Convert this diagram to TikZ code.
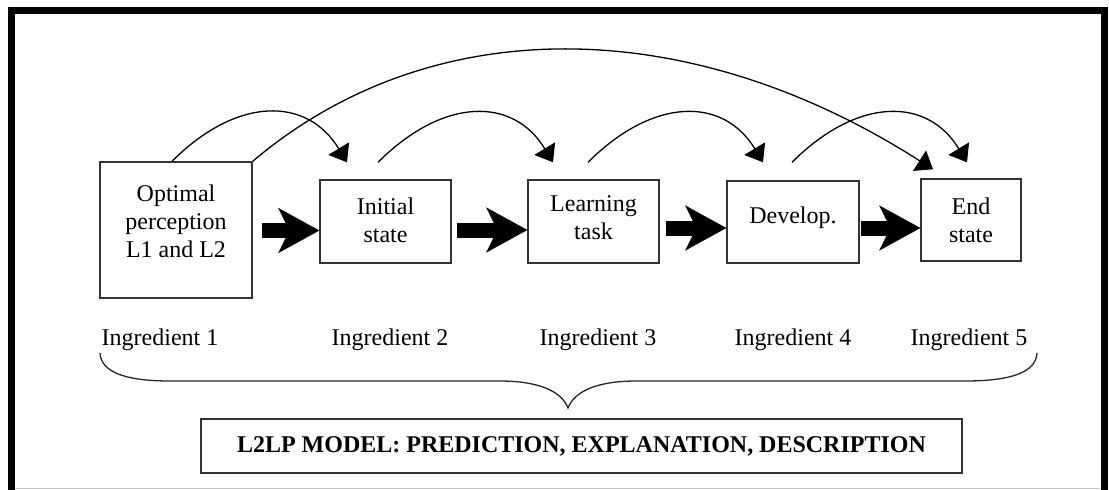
\documentclass[tikz,border=0pt]{standalone}
\usepackage{fontspec}
\setmainfont{Liberation Serif}
\usetikzlibrary{arrows.meta,calc}
\begin{document}
\begin{tikzpicture}[x=1pt,y=-1pt,
  box/.style={draw=black!80, line width=1.4pt, inner sep=0pt},
  txt/.style={font=\fontsize{24}{28}\selectfont, align=center, inner sep=0pt},
  fat/.style={line width=15pt, -{Stealth[length=41pt,width=45pt,inset=11pt,line width=0.1pt]}},
  hop/.style={line width=1.3pt, -{Triangle[length=16pt,width=24pt]}},
  brace/.style={line width=1.3pt, black!85},
]
\useasboundingbox (0,0) rectangle (1109,490);

% outer frame, open at the bottom
\draw[line width=7pt] (11.5,490) -- (11.5,10.5) -- (1104,10.5) -- (1104,490);
\draw[black!22, line width=1pt] (15,488.5) -- (1100,488.5);

% stages
\node[box, minimum width=152pt, minimum height=136pt] (b1) at (176,230) {};
\node[box, minimum width=131pt, minimum height=83pt] (b2) at (385.5,221.5) {};
\node[box, minimum width=131pt, minimum height=83pt] (b3) at (593.5,221.5) {};
\node[box, minimum width=132pt, minimum height=82pt] (b4) at (793,222) {};
\node[box, minimum width=100pt, minimum height=82pt] (b5) at (971,220) {};

\node[txt] (t1) at (176,221.5) {Optimal\\perception\\L1 and L2};
\node[txt] (t2) at (385.5,220) {Initial\\state};
\node[txt] (t3) at (593.5,218) {Learning\\task};
\node[txt, anchor=base] (t4) at (793,223) {Develop.};
\node[txt] (t5) at (971,220) {End\\state};

% thick arrows between consecutive stages
\draw[fat] ($(b1.east |- 0,230.5)+(9,0)$) -- (b2.west |- 0,230.5);
\draw[fat] ($(b2.east |- 0,230)+(5,0)$) -- (b3.west |- 0,230);
\draw[fat] ($(b3.east |- 0,228)+(6,0)$) -- (b4.west |- 0,228);
\draw[fat] ($(b4.east |- 0,228)+(1,0)$) -- (b5.west |- 0,228);

% curved hops from each stage to the next one
\draw[hop] ($(b1.north)+(-4,0)$) .. controls +(65,-65) and +(-40,-66) .. ($(b2.north)+(-38.5,-17)$);
\draw[hop] ($(b2.north)+(-7.5,-17)$) .. controls +(65,-65) and +(-40,-66) .. ($(b3.north)+(-40.5,-17)$);
\draw[hop] ($(b3.north)+(-5.5,-17)$) .. controls +(65,-65) and +(-40,-66) .. ($(b4.north)+(-30,-18)$);
\draw[hop] ($(b4.north)+(-1,-18)$) .. controls +(65,-65) and +(-40,-66) .. ($(b5.north)+(-4,-16)$);

% long arc from the first stage to the end state
\draw[hop] (b1.north east) .. controls (430,11) and (687,12) .. ($(b5.north)+(-38,-9)$);

% ingredient labels
\node[txt, anchor=base] (i1) at (160,345) {Ingredient 1};
\node[txt, anchor=base] (i2) at (390,345) {Ingredient 2};
\node[txt, anchor=base] (i3) at (598,345) {Ingredient 3};
\node[txt, anchor=base] (i4) at (793,345) {Ingredient 4};
\node[txt, anchor=base] (i5) at (969,345) {Ingredient 5};

% brace gathering the ingredients
\draw[brace] (100,353) .. controls (101,372) and (125,381) .. (170,381)
  -- (500,381) .. controls (540,381) and (562,392) .. (568,408)
  .. controls (574,392) and (596,381) .. (636,381)
  -- (965,381) .. controls (1012,381) and (1036,372) .. (1037,353);

% model box
\node[box, minimum width=761pt, minimum height=54pt,
      font=\bfseries\fontsize{24}{28}\selectfont] (m) at (581.5,446)
  {L2LP MODEL: PREDICTION, EXPLANATION, DESCRIPTION};
\end{tikzpicture}
\end{document}
